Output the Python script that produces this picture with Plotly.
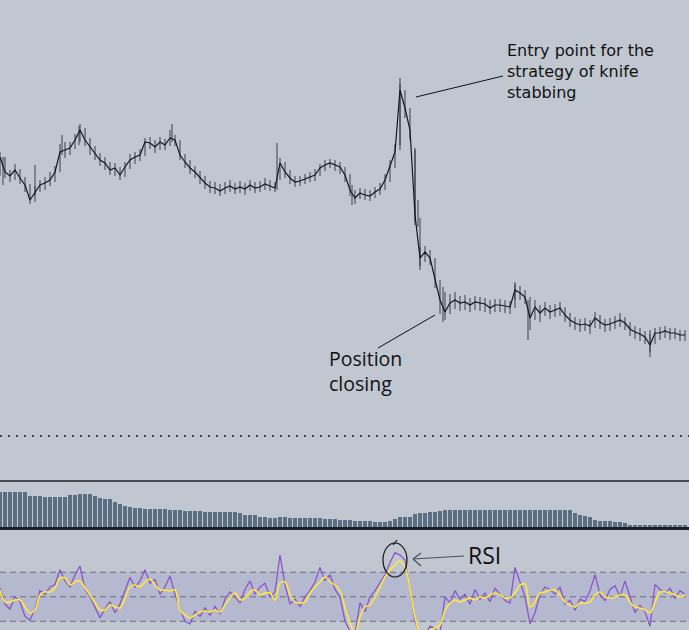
import plotly.graph_objects as go

W, H = 689, 630
BG = "#c0c7d0"

# ---------------- data ----------------
# price per 5-px bar step: close, high, low
price = [323, 308, 304, 310, 302, 295, 280, 288, 295, 297, 300, 308, 328, 330, 332, 340, 350, 340, 333, 327,
         320, 317, 310, 312, 305, 313, 320, 323, 325, 338, 337, 333, 338, 335, 342, 340, 325, 318, 312, 308,
         302, 297, 293, 292, 289, 292, 294, 291, 293, 291, 295, 292, 293, 296, 294, 292, 317, 308, 302, 298,
         299, 301, 303, 305, 312, 315, 317, 315, 313, 305, 290, 282, 287, 285, 284, 288, 291, 300, 313, 328,
         390, 372, 350, 265, 222, 228, 222, 200, 180, 168, 177, 180, 177, 178, 175, 178, 177, 176, 172, 175,
         175, 174, 173, 190, 187, 183, 162, 173, 167, 172, 168, 170, 172, 165, 160, 157, 155, 156, 154, 162,
         158, 155, 156, 158, 160, 157, 151, 148, 146, 143, 135, 147, 147, 149, 147, 147, 145, 145]
price_hi = [328, 323, 310, 316, 311, 303, 296, 294, 300, 303, 308, 314, 336, 338, 338, 346, 356, 352, 342, 334,
            327, 323, 318, 317, 313, 318, 326, 328, 331, 342, 343, 340, 343, 341, 350, 345, 340, 326, 320, 314,
            309, 304, 299, 298, 296, 298, 300, 297, 299, 297, 300, 298, 299, 302, 300, 298, 322, 318, 310, 304,
            304, 306, 308, 311, 316, 320, 321, 320, 318, 313, 306, 290, 292, 291, 290, 293, 297, 306, 320, 336,
            396, 390, 372, 330, 262, 234, 230, 222, 200, 188, 186, 188, 184, 185, 182, 184, 183, 182, 180, 181,
            181, 180, 179, 196, 194, 190, 183, 180, 175, 178, 175, 176, 178, 173, 167, 163, 161, 162, 160, 168,
            165, 161, 162, 164, 167, 163, 158, 154, 152, 149, 146, 152, 153, 154, 152, 152, 150, 150]
price_lo = [304, 302, 298, 300, 296, 288, 276, 278, 288, 290, 294, 298, 308, 322, 325, 331, 338, 334, 325, 320,
            314, 310, 305, 304, 300, 303, 311, 316, 319, 324, 331, 327, 330, 330, 334, 334, 320, 312, 306, 302,
            296, 291, 287, 286, 284, 286, 288, 286, 287, 285, 289, 287, 288, 290, 289, 288, 300, 302, 296, 293,
            294, 296, 298, 299, 304, 309, 312, 309, 306, 298, 284, 276, 281, 280, 279, 282, 285, 290, 298, 312,
            330, 362, 340, 258, 214, 218, 215, 192, 166, 160, 166, 171, 169, 170, 168, 170, 169, 168, 166, 168,
            168, 167, 166, 172, 180, 176, 150, 160, 158, 164, 161, 163, 164, 158, 153, 150, 148, 149, 146, 152,
            151, 148, 149, 151, 153, 150, 144, 141, 139, 136, 128, 136, 140, 142, 140, 141, 139, 139]
bar_idx = list(range(len(price)))

# isolated long bars (position, high, low)
spike_idx = [0.6, 7.0, 12.4, 15.8, 34.4, 55.4, 70.4, 80.0, 83.0, 83.6, 84.0, 88.6, 103.0, 105.6, 130.0]
spike_hi = [323, 315, 345, 354, 356, 337, 295, 402, 332, 280, 233, 193, 198, 180, 150]
spike_lo = [295, 285, 325, 335, 338, 290, 275, 335, 255, 253, 210, 158, 180, 140, 123]

volume = [36, 36, 36, 36, 36, 36, 32, 32, 32, 31, 31, 31, 31, 31, 33, 33, 34, 34, 34, 32,
          30, 29, 29, 26, 24, 22, 21, 20, 20, 19, 19, 19, 19, 19, 18, 18, 18, 17, 17, 17,
          17, 16, 16, 16, 16, 16, 16, 16, 15, 13, 13, 13, 11, 11, 10, 10, 11, 11, 10, 10,
          10, 10, 10, 10, 10, 9, 9, 9, 8, 8, 8, 7, 7, 7, 7, 6, 6, 6, 7, 9,
          11, 11, 11, 14, 15, 15, 16, 16, 17, 18, 18, 18, 18, 18, 18, 18, 18, 18, 18, 18,
          18, 18, 18, 18, 18, 18, 18, 18, 18, 18, 18, 18, 18, 18, 18, 15, 13, 12, 11, 8,
          7, 7, 7, 6, 6, 5, 3, 3, 3, 3, 3, 3, 3, 3, 3, 3, 3, 3]

rsi = [57, 44, 40, 50, 46, 34, 31, 40, 55, 52, 58, 60, 72, 63, 58, 68, 75, 56, 50, 42,
       33, 40, 46, 37, 44, 55, 66, 58, 63, 72, 61, 64, 52, 58, 67, 52, 40, 30, 28, 38,
       34, 41, 35, 42, 36, 48, 54, 50, 45, 56, 63, 52, 58, 61, 50, 54, 84, 60, 44, 48,
       42, 50, 55, 62, 74, 63, 68, 56, 50, 30, 22, 20, 45, 38, 50, 55, 62, 68, 78, 86,
       84, 80, 55, 30, 20, 18, 26, 24, 20, 50, 45, 55, 48, 52, 44, 56, 48, 53, 46, 57,
       52, 47, 45, 74, 62, 50, 28, 37, 52, 58, 56, 52, 58, 44, 47, 39, 48, 46, 55, 68,
       52, 47, 56, 59, 50, 63, 50, 37, 43, 38, 26, 60, 56, 53, 57, 49, 55, 52]

rsi_ma = [55.6, 45.8, 45.8, 47.4, 47.4, 41.7, 36.8, 39.2, 51.5, 53.9, 53.9, 57.2, 65.3, 65.3, 59.6, 62.1, 62.9, 57.2, 51.5, 44.9,
          39.2, 39.2, 43.3, 41.7, 40.9, 49.0, 58.0, 59.6, 58.0, 62.1, 64.5, 59.6, 55.6, 55.6, 54.7, 55.6, 39.2, 35.1, 32.7, 35.1,
          37.6, 38.4, 37.6, 39.2, 37.6, 43.3, 49.0, 53.1, 47.4, 49.0, 53.9, 55.6, 51.5, 53.1, 53.1, 47.4, 61.3, 62.1, 51.5, 45.8,
          44.9, 45.8, 53.1, 58.0, 62.1, 66.2, 62.1, 59.6, 54.7, 40.9, 28.6, 20.4, 33.5, 41.7, 43.3, 49.8, 58.0, 66.2, 71.9, 76.0,
          79.2, 74.3, 55.6, 33.5, 21.2, 19.6, 22.9, 24.5, 27.0, 39.2, 44.9, 47.4, 45.8, 47.4, 49.0, 47.4, 49.8, 49.0, 51.5, 53.1,
          51.5, 49.0, 49.0, 53.1, 59.6, 60.4, 41.7, 45.8, 53.1, 53.9, 55.6, 55.6, 51.5, 45.8, 43.3, 41.7, 44.9, 44.9, 45.8, 51.5,
          53.9, 49.8, 49.0, 49.8, 51.5, 51.5, 45.8, 41.7, 40.9, 39.2, 36.8, 45.8, 53.9, 53.9, 53.1, 51.5, 49.8, 51.5]

rsi_levels = [30, 50, 70]
stop_level = 44

# ---------------- helpers for layout positions (pixels -> paper) ----------------
def px(x):
    return x / W

def py(y):
    return 1 - y / H

XR = [0, W / 5]

fig = go.Figure()

# high-low bars
hx, hy = [], []
for t, hi, lo in zip(bar_idx, price_hi, price_lo):
    hx += [t, t, None]
    hy += [hi, lo, None]
for t, hi, lo in zip(spike_idx, spike_hi, spike_lo):
    hx += [t, t, None]
    hy += [hi, lo, None]
fig.add_trace(go.Scatter(x=hx, y=hy, mode="lines", line=dict(color="#34414f", width=1),
                         xaxis="x", yaxis="y", hoverinfo="skip", showlegend=False))
# close line
fig.add_trace(go.Scatter(x=bar_idx, y=price, mode="lines",
                         line=dict(color="#14181d", width=1.2), xaxis="x", yaxis="y",
                         hoverinfo="skip", showlegend=False))

# volume
fig.add_trace(go.Bar(x=bar_idx, y=volume, width=0.72, marker=dict(color="#5c6e81", line=dict(width=0)),
                     xaxis="x2", yaxis="y2", hoverinfo="skip", showlegend=False))

# RSI
fig.add_trace(go.Scatter(x=bar_idx, y=rsi, mode="lines", line=dict(color="#8a55cc", width=1.3),
                         xaxis="x3", yaxis="y3", hoverinfo="skip", showlegend=False))
fig.add_trace(go.Scatter(x=bar_idx, y=rsi_ma, mode="lines", line=dict(color="#ffe83c", width=1.6, shape="spline"),
                         xaxis="x3", yaxis="y3", hoverinfo="skip", showlegend=False))

shapes = []
# RSI band
shapes.append(dict(type="rect", xref="paper", yref="y3", x0=0, x1=1, y0=rsi_levels[0], y1=rsi_levels[2],
                   fillcolor="#b5b9d0", line=dict(width=0), layer="below"))
for lv in rsi_levels:
    shapes.append(dict(type="line", xref="paper", yref="y3", x0=0, x1=1, y0=lv, y1=lv,
                       line=dict(color="#6c707a", width=1, dash="6px,4px"), layer="below"))
# dotted level on price panel
shapes.append(dict(type="line", xref="paper", yref="y", x0=0, x1=1, y0=stop_level, y1=stop_level,
                   line=dict(color="#3a4450", width=2, dash="2px,6px")))
# panel separators
shapes.append(dict(type="line", xref="paper", yref="paper", x0=0, x1=1, y0=py(481), y1=py(481),
                   line=dict(color="#1b2027", width=1.5)))
shapes.append(dict(type="line", xref="paper", yref="paper", x0=0, x1=1, y0=py(528.5), y1=py(528.5),
                   line=dict(color="#1b2027", width=3)))
# annotation leader lines
shapes.append(dict(type="line", xref="paper", yref="paper", x0=px(416), y0=py(97), x1=px(503), y1=py(76),
                   line=dict(color="#111", width=1)))
shapes.append(dict(type="line", xref="paper", yref="paper", x0=px(378), y0=py(348), x1=px(435), y1=py(315),
                   line=dict(color="#111", width=1)))
# RSI arrow
for (a, b, c, d) in [(413, 559, 464, 556), (413, 559, 421, 553), (413, 559, 421, 566)]:
    shapes.append(dict(type="line", xref="paper", yref="paper", x0=px(a), y0=py(b), x1=px(c), y1=py(d),
                       line=dict(color="#4a4f58", width=1.2)))
# hand-drawn circle
shapes.append(dict(type="circle", xref="paper", yref="paper", x0=px(383), x1=px(407), y0=py(577), y1=py(543),
                   line=dict(color="#111", width=1.2)))
shapes.append(dict(type="line", xref="paper", yref="paper", x0=px(393), y0=py(545), x1=px(397), y1=py(540),
                   line=dict(color="#111", width=1.2)))

annotations = [
    dict(text="Entry point for the<br>strategy of knife<br>stabbing", xref="paper", yref="paper",
         x=px(505), y=py(39), xanchor="left", yanchor="top", align="left", showarrow=False,
         font=dict(family="DejaVu Sans", size=16, color="#111")),
    dict(text="Position<br>closing", xref="paper", yref="paper",
         x=px(327), y=py(343), xanchor="left", yanchor="top", align="left", showarrow=False,
         font=dict(family="Open Sans", size=19.5, color="#111")),
    dict(text="RSI", xref="paper", yref="paper",
         x=px(466), y=py(555), xanchor="left", yanchor="middle", align="left", showarrow=False,
         font=dict(family="Open Sans", size=23, color="#111")),
]

ax_common = dict(visible=False, showgrid=False, zeroline=False, fixedrange=True)
fig.update_layout(
    width=W, height=H, margin=dict(l=0, r=0, t=0, b=0, pad=0),
    paper_bgcolor=BG, plot_bgcolor=BG, showlegend=False, bargap=0,
    xaxis=dict(range=XR, anchor="y", **ax_common),
    xaxis2=dict(range=XR, anchor="y2", matches="x", **ax_common),
    xaxis3=dict(range=XR, anchor="y3", matches="x", **ax_common),
    yaxis=dict(domain=[py(480), 1], range=[0, 480], anchor="x", **ax_common),
    yaxis2=dict(domain=[py(528), py(482)], range=[0, 46], anchor="x2", **ax_common),
    yaxis3=dict(domain=[0, py(530)], range=[22.9, 104.5], anchor="x3", **ax_common),
    shapes=shapes, annotations=annotations,
)

fig.write_html("out.html", config=dict(displayModeBar=False))
